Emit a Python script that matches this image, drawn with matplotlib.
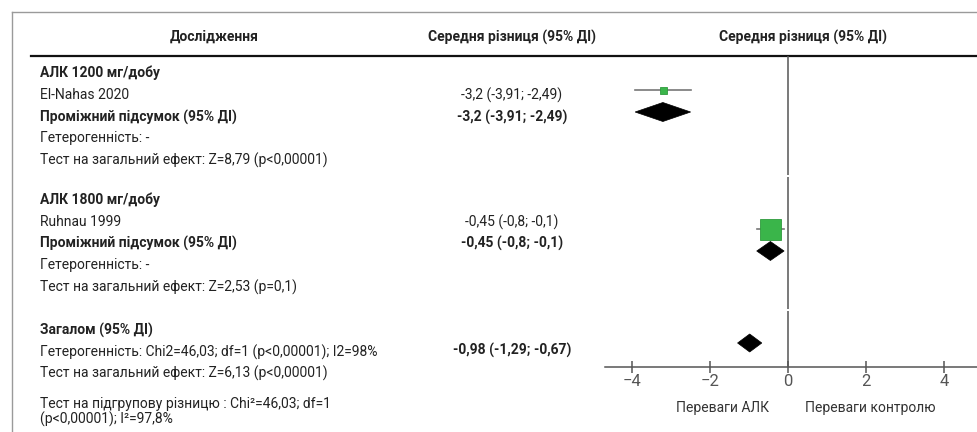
import matplotlib
matplotlib.use("Agg")
import matplotlib.pyplot as plt
from matplotlib.patches import Polygon

plt.rcParams["font.family"] = ["Roboto", "DejaVu Sans"]

# ---- data -------------------------------------------------------------
groups = ["АЛК 1200 мг/добу", "АЛК 1800 мг/добу"]
studies = ["El-Nahas 2020", "Ruhnau 1999"]
study_md = [-3.2, -0.45]
study_lo = [-3.91, -0.8]
study_hi = [-2.49, -0.1]
sub_md = [-3.2, -0.45]
sub_lo = [-3.91, -0.8]
sub_hi = [-2.49, -0.1]
overall_md = -0.98
overall_lo = -1.29
overall_hi = -0.67
heterogeneity = ["Гетерогенність: -", "Гетерогенність: -"]
effect_tests = ["Тест на загальний ефект: Z=8,79 (p<0,00001)",
                "Тест на загальний ефект: Z=2,53 (p=0,1)"]
overall_het = "Гетерогенність: Chi2=46,03; df=1 (p<0,00001); I2=98%"
overall_test = "Тест на загальний ефект: Z=6,13 (p<0,00001)"
subgroup_test = ["Тест на підгрупову різницю : Chi²=46,03; df=1",
                 "(p<0,00001); I²=97,8%"]
x_ticks = [-4, -2, 0, 2, 4]
favours = ["Переваги АЛК", "Переваги контролю"]

# ---- styling / layout (pixel rows of the 978x432 canvas) ---------------
W, H = 978, 432
TXT = "#222222"
GREEN = "#3ab54a"
FS = 10

group_rows = [73, 200]
study_rows = [95, 222]
sub_rows = [117, 243]
het_rows = [138, 265]
test_rows = [160, 287]
mark_study_y = [90, 229]
mark_sub_y = [112, 251]
square_px = [7, 21]


def fmt(v):
    return str(v).replace(".", ",")


def ci_text(m, lo, hi):
    return f"{fmt(m)} ({fmt(lo)}; {fmt(hi)})"


fig = plt.figure(figsize=(W / 100, H / 100), dpi=100)

# full-canvas layer for text and rules, in pixel coordinates
bg = fig.add_axes([0, 0, 1, 1])
bg.set_xlim(0, W)
bg.set_ylim(H, 0)
bg.axis("off")

# frame and header rule
bg.plot([12, W], [12, 12], color="#9a9a9a", lw=1.0)
bg.plot([12, 12], [12, H], color="#9a9a9a", lw=1.0)
bg.plot([31, W], [56, 56], color="#111111", lw=1.6)

hdr = dict(fontsize=FS, fontweight="bold", color=TXT, ha="center", va="center")
bg.text(214, 37, "Дослідження", **hdr)
bg.text(512, 37, "Середня різниця (95% ДІ)", **hdr)
bg.text(803, 37, "Середня різниця (95% ДІ)", **hdr)

left = dict(fontsize=FS, color=TXT, ha="left", va="center")
mid = dict(fontsize=FS, color=TXT, ha="center", va="center")
for i in range(len(groups)):
    bg.text(40, group_rows[i], groups[i], fontweight="bold", **left)
    bg.text(40, study_rows[i], studies[i], **left)
    bg.text(40, sub_rows[i], "Проміжний підсумок (95% ДІ)", fontweight="bold", **left)
    bg.text(40, het_rows[i], heterogeneity[i], **left)
    bg.text(40, test_rows[i], effect_tests[i], **left)
    bg.text(512, study_rows[i], ci_text(study_md[i], study_lo[i], study_hi[i]), **mid)
    bg.text(512, sub_rows[i], ci_text(sub_md[i], sub_lo[i], sub_hi[i]),
            fontweight="bold", **mid)

bg.text(40, 330, "Загалом (95% ДІ)", fontweight="bold", **left)
bg.text(40, 352, overall_het, **left)
bg.text(40, 373, overall_test, **left)
bg.text(512, 350, ci_text(overall_md, overall_lo, overall_hi), fontweight="bold", **mid)
bg.text(40, 404, subgroup_test[0], **left)
bg.text(40, 419, subgroup_test[1], **left)

# ---- forest panel ------------------------------------------------------
ax_l, ax_r, ax_t, ax_b = 605, W, 56, 367
px_per_unit = 39.1
x0 = 788
ax = fig.add_axes([ax_l / W, (H - ax_b) / H, (ax_r - ax_l) / W, (ax_b - ax_t) / H])
ax.set_xlim((ax_l - x0) / px_per_unit, (ax_r - x0) / px_per_unit)
ax.set_ylim(ax_b, ax_t)
ax.patch.set_alpha(0)
for s in ["top", "right", "left"]:
    ax.spines[s].set_visible(False)
ax.spines["bottom"].set_color("#555555")
ax.spines["bottom"].set_linewidth(1.1)
ax.set_yticks([])
ax.set_xticks(x_ticks)
ax.tick_params(axis="x", direction="inout", length=8, width=1.1, color="#555555",
               labelsize=12, labelcolor="#555555", pad=1)

# line of no effect, drawn in three pieces with hairline breaks
for y_a, y_b in [(ax_t, 175), (177, 309), (311, ax_b)]:
    ax.plot([0, 0], [y_a, y_b], color="#555555", lw=1.1, solid_capstyle="butt")

pt = 72 / 100  # points per pixel
for i in range(len(studies)):
    ax.plot([study_lo[i], study_hi[i]], [mark_study_y[i]] * 2, color="#777777", lw=1.2)
    ax.plot(study_md[i], mark_study_y[i], marker="s", ms=square_px[i] * pt,
            mfc=GREEN, mec="#2f9a3d", mew=0.6)


def diamond(m, lo, hi, y, half_h):
    ax.add_patch(Polygon([[lo, y], [m, y - half_h], [hi, y], [m, y + half_h]],
                         closed=True, fc="black", ec="black", lw=0.5))


for i in range(len(sub_md)):
    diamond(sub_md[i], sub_lo[i], sub_hi[i], mark_sub_y[i], 9.5)
diamond(overall_md, overall_lo, overall_hi, 343, 9)

bg.text(722, 408, favours[0], fontsize=FS, color="#333333", ha="center", va="center")
bg.text(870, 408, favours[1], fontsize=FS, color="#333333", ha="center", va="center")

fig.savefig("out.png", dpi=100)
